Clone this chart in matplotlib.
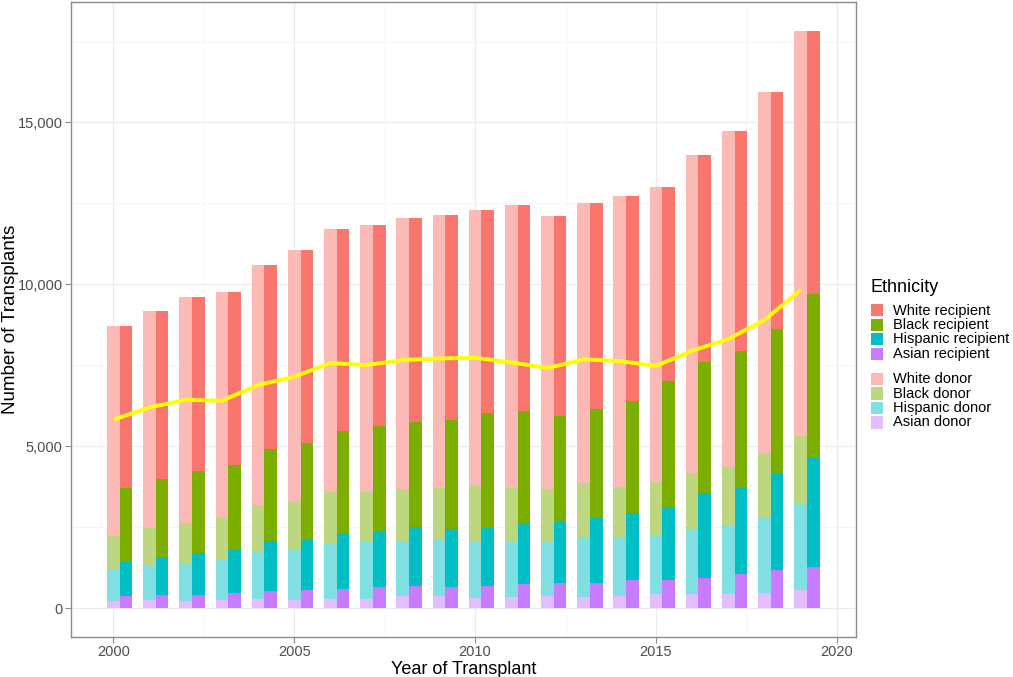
import numpy as np
import matplotlib
matplotlib.use("Agg")
import matplotlib.pyplot as plt
from matplotlib.patches import Rectangle
from matplotlib.ticker import FuncFormatter, MultipleLocator

plt.rcParams['font.family'] = ['Liberation Sans', 'DejaVu Sans']

# transplant counts per year, stacked bottom to top: asian, hispanic, black, white
years = np.arange(2000, 2020)

donor_asian = [205, 236, 205, 246, 277, 256, 297, 297, 360, 360,
               328, 349, 370, 349, 380, 422, 432, 432, 473, 556]
donor_hispanic = [978, 1071, 1174, 1267, 1494, 1535, 1700, 1731, 1699, 1730,
                  1700, 1731, 1658, 1803, 1772, 1802, 1998, 2091, 2328, 2677]
donor_black = [1030, 1153, 1247, 1308, 1412, 1524, 1576, 1566, 1607, 1627,
               1751, 1627, 1658, 1699, 1576, 1658, 1742, 1824, 1958, 2082]
donor_white = [6510, 6706, 6972, 6931, 7415, 7756, 8147, 8240, 8384, 8436,
               8528, 8746, 8415, 8663, 9003, 9136, 9826, 10393, 11195, 12515]

recip_asian = [370, 411, 411, 452, 535, 565, 606, 637, 668, 648,
               689, 741, 762, 782, 855, 855, 916, 1040, 1163, 1256]
recip_hispanic = [1040, 1134, 1277, 1349, 1524, 1535, 1680, 1721, 1835, 1803,
                  1772, 1875, 1885, 2009, 2091, 2255, 2627, 2667, 2978, 3368]
recip_black = [2287, 2440, 2555, 2627, 2854, 2998, 3192, 3255, 3233, 3358,
               3553, 3460, 3295, 3367, 3460, 3914, 4068, 4223, 4469, 5079]
recip_white = [5026, 5181, 5355, 5324, 5685, 5973, 6242, 6221, 6314, 6344,
               6293, 6377, 6159, 6356, 6325, 5994, 6387, 6810, 7344, 8127]

# yellow line
line_vals = [5819, 6200, 6436, 6405, 6890, 7147, 7570, 7508, 7663, 7710,
             7734, 7590, 7416, 7684, 7632, 7478, 7950, 8311, 8899, 9826]

groups = ['White', 'Black', 'Hispanic', 'Asian']
cols = ['#F8766D', '#7CAE00', '#00BFC4', '#C77CFF']
light = ['#FBBAB6', '#BDD680', '#7FDFE1', '#E3BDFF']

fig = plt.figure(figsize=(10.13, 6.77), dpi=100)
ax = fig.add_axes([71/1013, 1-637/677, (856-71)/1013, (637-2)/677])

bw = 0.35
donor = [donor_asian, donor_hispanic, donor_black, donor_white]
recip = [recip_asian, recip_hispanic, recip_black, recip_white]
dcols = light[::-1]
rcols = cols[::-1]

bottom = np.zeros(len(years))
for vals, c in zip(donor, dcols):
    ax.bar(years, vals, width=bw, bottom=bottom, color=c, linewidth=0, zorder=2)
    bottom = bottom + np.array(vals)

bottom = np.zeros(len(years))
for vals, c in zip(recip, rcols):
    ax.bar(years + bw, vals, width=bw, bottom=bottom, color=c, linewidth=0, zorder=2)
    bottom = bottom + np.array(vals)

ax.plot(years, line_vals, color='#FFFF00', lw=2.8, zorder=3, solid_capstyle='butt')

ax.set_xlim(1998.83, 2020.53)
ax.set_ylim(-892, 18722)
ax.xaxis.set_major_locator(MultipleLocator(5))
ax.xaxis.set_minor_locator(MultipleLocator(2.5))
ax.yaxis.set_major_locator(MultipleLocator(5000))
ax.yaxis.set_minor_locator(MultipleLocator(2500))
ax.yaxis.set_major_formatter(FuncFormatter(lambda v, p: f'{int(v):,}'))

ax.grid(which='major', color='#EBEBEB', lw=0.8, zorder=0)
ax.grid(which='minor', color='#F2F2F2', lw=0.5, zorder=0)
ax.set_axisbelow(True)
for s in ax.spines.values():
    s.set_color('#8C8C8C')
    s.set_linewidth(1.0)
ax.tick_params(which='major', length=4.5, width=0.8, color='#8C8C8C',
               labelsize=10.5, labelcolor='#4D4D4D', pad=1.5)
ax.tick_params(which='minor', length=0)

ax.set_xlabel('Year of Transplant', fontsize=13, labelpad=1)
ax.set_ylabel('Number of Transplants', fontsize=13.5)
ax.yaxis.set_label_coords(-52/785, 0.5)

# legend drawn by hand
W, H = 1013, 677
fig.text(870/W, 1-287/H, 'Ethnicity', fontsize=13, va='center', ha='left')
labels = [g + ' recipient' for g in groups] + [g + ' donor' for g in groups]
kcols = cols + light
key_tops = [304, 318.5, 333, 347.5, 372.5, 387, 401.5, 416]
for lab, c, yt in zip(labels, kcols, key_tops):
    fig.add_artist(Rectangle((870.5/W, 1-(yt+12.5)/H), 12/W, 12.5/H,
                             transform=fig.transFigure, color=c, lw=0))
    fig.text(893/W, 1-(yt+6.5)/H, lab, fontsize=10.5, va='center', ha='left')

fig.savefig('out.png', dpi=100)
